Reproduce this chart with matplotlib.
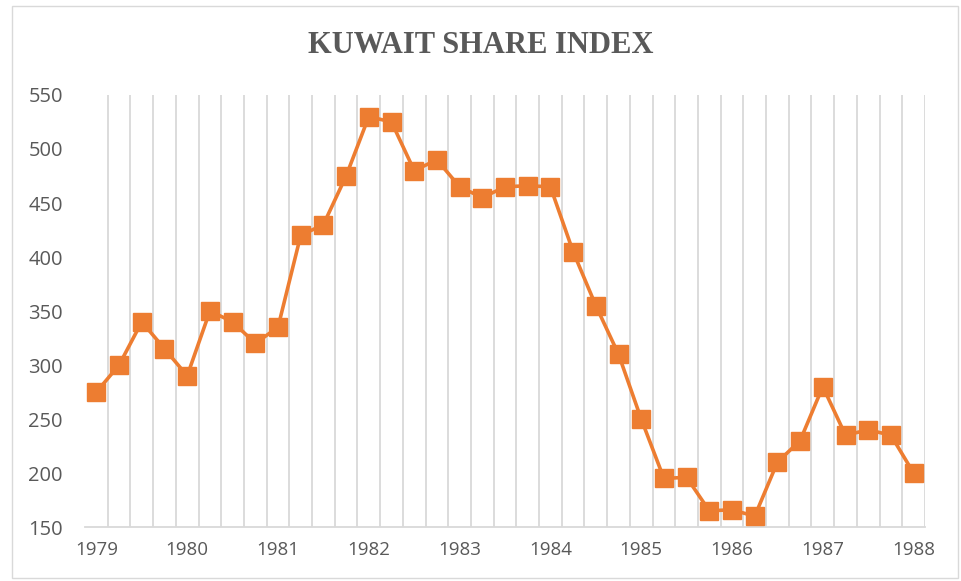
import matplotlib
matplotlib.use("Agg")
import matplotlib.pyplot as plt
from matplotlib.patches import Rectangle

# quarterly readings, 1979 Q1 .. 1988 Q1
index_values = [275, 300, 340, 315, 290, 350, 340, 320, 335, 420, 430, 475,
                530, 525, 480, 490, 465, 455, 465, 466, 465, 405, 355, 310,
                250, 195, 196, 165, 166, 160, 210, 230, 280, 235, 240, 235,
                200]
year_labels = ["1979", "1980", "1981", "1982", "1983", "1984", "1985",
               "1986", "1987", "1988"]
y_ticks = [150, 200, 250, 300, 350, 400, 450, 500, 550]

orange = "#ED7D31"
gray_txt = "#595959"
grid_col = "#D9D9D9"

fig = plt.figure(figsize=(9.61, 5.81), dpi=100)
ax = fig.add_axes([0.0885, 0.0929, 0.874, 0.7436])

# chart border
fig.patches.append(Rectangle((0.012, 0.005), 0.985, 0.985, transform=fig.transFigure,
                             fill=False, edgecolor=grid_col, linewidth=1))

x = list(range(len(index_values)))
ax.plot(x, index_values, color=orange, linewidth=2.6, marker="s",
        markersize=12.5, markerfacecolor=orange, markeredgecolor=orange, zorder=3)

ax.set_xlim(-0.5, len(index_values) - 0.5)
ax.set_ylim(150, 550)

# category boundaries as gridlines
ax.set_xticks([i + 0.5 for i in range(len(index_values))], minor=True)
ax.grid(True, which="minor", axis="x", color=grid_col, linewidth=1.3)
ax.tick_params(which="minor", length=0)

ax.set_xticks(x[::4])
ax.set_xticklabels(year_labels)
ax.set_yticks(y_ticks)
ax.tick_params(axis="both", which="major", length=0, colors=gray_txt)
ax.tick_params(axis="x", pad=10, labelsize=13.5)
ax.tick_params(axis="y", pad=16, labelsize=14.5)
for lab in ax.get_yticklabels() + ax.get_xticklabels():
    lab.set_fontfamily("Open Sans")

for s in ["left", "top", "right"]:
    ax.spines[s].set_visible(False)
ax.spines["bottom"].set_color(grid_col)
ax.spines["bottom"].set_linewidth(1.3)

fig.text(0.5, 0.922, "KUWAIT SHARE INDEX", ha="center", va="center",
         fontsize=22, fontweight="bold", family="Liberation Serif", color=gray_txt)

fig.savefig("out.png", dpi=100)
